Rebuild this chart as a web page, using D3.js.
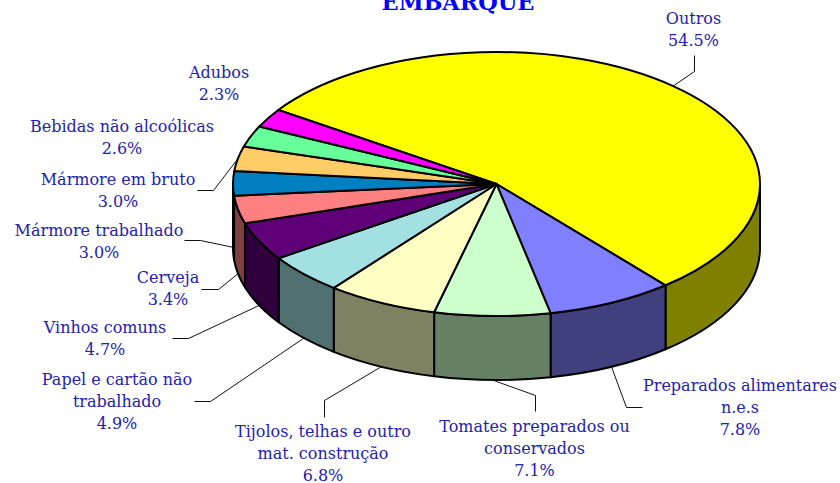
<!DOCTYPE html>
<html>
<head>
<meta charset="utf-8">
<script src="https://cdn.jsdelivr.net/npm/d3@7"></script>
<style>
  html, body { margin: 0; padding: 0; background: #fff; overflow: hidden; }
  text { font-family: "DejaVu Serif", serif; }
</style>
</head>
<body>
<div id="chart"></div>
<script>
// Values, clockwise from the big slice
var categories = ['Outros', 'Preparados alimentares n.e.s', 'Tomates preparados ou conservados',
  'Tijolos, telhas e outro mat. construção', 'Papel e cartão não trabalhado', 'Vinhos comuns',
  'Cerveja', 'Mármore trabalhado', 'Mármore em bruto', 'Bebidas não alcoólicas', 'Adubos'];
var values = [54.5, 7.8, 7.1, 6.8, 4.9, 4.7, 3.4, 3.0, 3.0, 2.6, 2.3];
var labelLines = [['Outros'], ['Preparados alimentares', 'n.e.s'], ['Tomates preparados ou', 'conservados'],
  ['Tijolos, telhas e outro', 'mat. construção'], ['Papel e cartão não', 'trabalhado'], ['Vinhos comuns'],
  ['Cerveja'], ['Mármore trabalhado'], ['Mármore em bruto'], ['Bebidas não alcoólicas'], ['Adubos']];

var topColors = ['#ffff00', '#8080ff', '#ccffcc', '#ffffc4', '#a2e0e2', '#5f0078',
  '#ff8080', '#0080c0', '#ffcc66', '#66ff99', '#ff00ff'];
var sideColors = ['#808000', '#40407f', '#668066', '#808062', '#507071', '#30003c',
  '#804040', '#004060', '#806633', '#33804c', '#800080'];

// Hand placed label spots: centre x, first baseline
var labelPos = [[693.5, 24], [740, 391], [534.5, 432], [323, 437], [117, 385], [105, 333],
  [168, 283], [99, 236], [118, 185], [122, 132], [219, 78]];
// Leader elbows, null when the label sits next to its slice
var leaderBends = [[[694, 71], [694, 55]], [[626, 407], [642, 407]], [[535, 395], [535, 411]],
  [[324, 400], [324, 417]], [[210, 401], [194, 401]], [[188, 338], [172, 338]],
  [[218, 289], [201, 289]], [[200, 240], [184, 240]], [[213, 190], [197, 190]], null, null];

var width = 840, height = 483;
var cx = 496.5, cy = 184, rx = 263.5, ry = 132, depth = 64;
var LINE_HEIGHT = 22;
var TEXT_COLOR = '#2222ad';
var START = -55.9 * Math.PI / 180;

var svg = d3.select('#chart').append('svg')
  .attr('width', width)
  .attr('height', height)
  .style('display', 'block');

var slices = d3.pie().sort(null).startAngle(START).endAngle(START + 2 * Math.PI)(values);

function px(a) { return cx + rx * Math.sin(a); }
function py(a) { return cy - ry * Math.cos(a); }

// Front wall, only the part between 90 and 270 degrees can be seen
function wallPath(d) {
  var a0 = d.startAngle, a1 = d.endAngle;
  var lo = Math.PI / 2, hi = 3 * Math.PI / 2;
  a0 = Math.max(a0, lo);
  a1 = Math.min(a1, hi);
  if (a1 <= a0) return null;
  return 'M' + px(a0) + ',' + py(a0)
    + 'A' + rx + ',' + ry + ' 0 0 1 ' + px(a1) + ',' + py(a1)
    + 'L' + px(a1) + ',' + (py(a1) + depth)
    + 'A' + rx + ',' + ry + ' 0 0 0 ' + px(a0) + ',' + (py(a0) + depth) + 'Z';
}

svg.append('g').selectAll('path')
  .data(slices.filter(function(d) { return wallPath(d); }))
  .enter().append('path')
  .attr('d', wallPath)
  .attr('fill', function(d) { return sideColors[d.index]; })
  .attr('stroke', '#000')
  .attr('stroke-width', 2)
  .attr('stroke-linejoin', 'round');

// Top face: a normal arc squashed into the ellipse
var arc = d3.arc().innerRadius(0).outerRadius(rx);

svg.append('g')
  .attr('transform', 'translate(' + cx + ',' + cy + ') scale(1,' + (ry / rx) + ')')
  .selectAll('path')
  .data(slices)
  .enter().append('path')
  .attr('d', arc)
  .attr('fill', function(d) { return topColors[d.index]; })
  .attr('stroke', '#000')
  .attr('stroke-width', 2)
  .attr('stroke-linejoin', 'round')
  .attr('vector-effect', 'non-scaling-stroke');

// Leaders start on the rim at the middle of the slice
var leader = d3.line();

svg.append('g').selectAll('path')
  .data(slices.filter(function(d) { return leaderBends[d.index]; }))
  .enter().append('path')
  .attr('fill', 'none')
  .attr('stroke', '#111')
  .attr('stroke-width', 1)
  .attr('d', function(d) {
    var mid = (d.startAngle + d.endAngle) / 2;
    // the slice at the far left still hangs its leader on the wall
    var front = Math.cos(mid) < 0.02;
    var start = [px(mid), py(mid) + (front ? depth : 0)];
    var bends = leaderBends[d.index].map(function(p) { return [p[0] + 0.5, p[1] + 0.5]; });
    return leader([start].concat(bends));
  });

var labels = svg.append('g').selectAll('text')
  .data(slices)
  .enter().append('text')
  .attr('text-anchor', 'middle')
  .attr('font-size', 16)
  .attr('fill', TEXT_COLOR)
  .attr('x', function(d) { return labelPos[d.index][0]; })
  .attr('y', function(d) { return labelPos[d.index][1]; });

labels.each(function(d) {
  var el = d3.select(this);
  var lines = labelLines[d.index].concat([d3.format('.1f')(d.value) + '%']);
  lines.forEach(function(line, i) {
    el.append('tspan')
      .attr('x', labelPos[d.index][0])
      .attr('y', labelPos[d.index][1] + i * LINE_HEIGHT)
      .text(line);
  });
});

svg.append('text')
  .attr('x', 458)
  .attr('y', 10)
  .attr('text-anchor', 'middle')
  .attr('font-size', 22.4)
  .attr('font-weight', 'bold')
  .attr('fill', '#0000ff')
  .text('EMBARQUE');
</script>
</body>
</html>
